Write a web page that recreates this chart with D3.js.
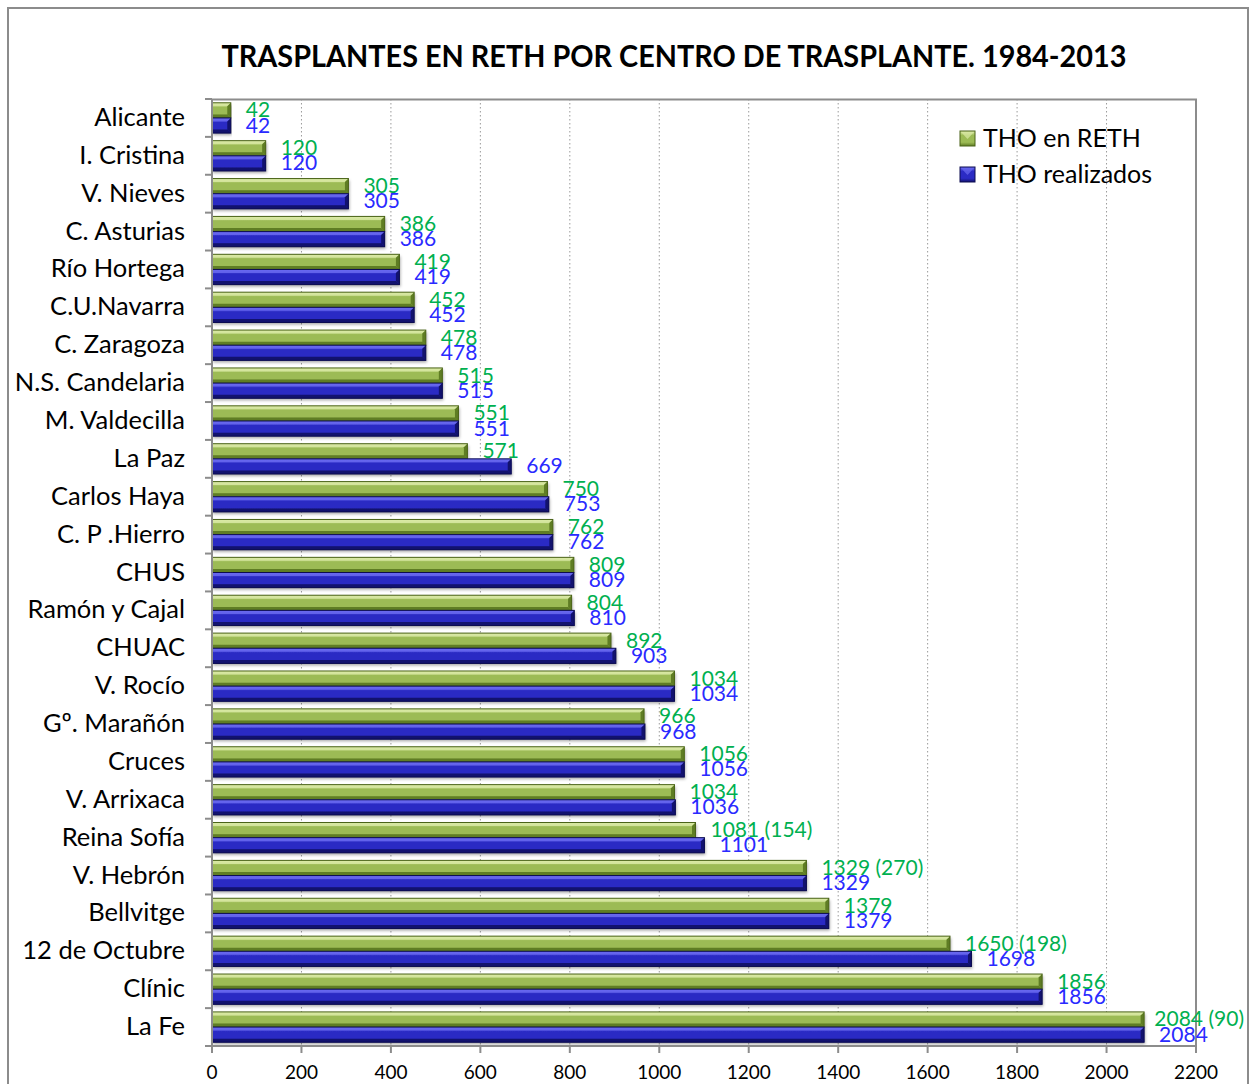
<!DOCTYPE html>
<html>
<head>
<meta charset="utf-8">
<script src="https://cdn.jsdelivr.net/npm/d3@7"></script>
<style>
  body { margin: 0; background: #fff; }
  text { font-family: Lato, "Open Sans", sans-serif; }
</style>
</head>
<body>
<svg id="svg1" width="1250" height="1084"></svg>
<script>
var svgId = "#svg1";

var centros = ["Alicante", "I. Cristina", "V. Nieves", "C. Asturias", "Río Hortega",
  "C.U.Navarra", "C. Zaragoza", "N.S. Candelaria", "M. Valdecilla", "La Paz",
  "Carlos Haya", "C. P .Hierro", "CHUS", "Ramón y Cajal", "CHUAC", "V. Rocío",
  "Gº. Marañón", "Cruces", "V. Arrixaca", "Reina Sofía", "V. Hebrón", "Bellvitge",
  "12 de Octubre", "Clínic", "La Fe"];
var thoReth = [42, 120, 305, 386, 419, 452, 478, 515, 551, 571, 750, 762, 809, 804,
  892, 1034, 966, 1056, 1034, 1081, 1329, 1379, 1650, 1856, 2084];
var thoRealizados = [42, 120, 305, 386, 419, 452, 478, 515, 551, 669, 753, 762, 809, 810,
  903, 1034, 968, 1056, 1036, 1101, 1329, 1379, 1698, 1856, 2084];
var rethExtra = ["", "", "", "", "", "", "", "", "", "", "", "", "", "", "", "", "", "",
  "", "(154)", "(270)", "", "(198)", "", "(90)"];
var xTicks = [0, 200, 400, 600, 800, 1000, 1200, 1400, 1600, 1800, 2000, 2200];
var series = ["THO en RETH", "THO realizados"];

var params = {
  "chartRight": 1244,
  "plot": { "x": 212, "y": 99, "width": 984, "height": 947 }
};

var translate = function(x, y) { return "translate(" + x + "," + y + ")"; };

var scale = {
  "x": d3.scaleLinear().domain([0, 2200]).range([0, params.plot.width]),
  "y": d3.scaleBand().domain(centros).range([0, params.plot.height]).paddingInner(0.2).paddingOuter(0.1),
  "s": d3.scaleBand().domain(series)
};
scale.s.range([0, scale.y.bandwidth()]);

var svg = d3.select(svgId);
var defs = svg.append("defs");

// gradients for the beveled bars
var looks = {
  "THO en RETH": { light: "#dbeaa6", mid: "#9cbb55", dark: "#5f7d24", edge: "#4a6318", text: "#00b050" },
  "THO realizados": { light: "#6a6af0", mid: "#2b2bc4", dark: "#12126e", edge: "#0c0c50", text: "#2a2aff" }
};
series.forEach(function(s, i) {
  var g = defs.append("linearGradient").attr("id", "grad" + i)
    .attr("x1", 0).attr("y1", 0).attr("x2", 0).attr("y2", 1);
  g.append("stop").attr("offset", "0%").attr("stop-color", looks[s].light);
  g.append("stop").attr("offset", "30%").attr("stop-color", looks[s].mid);
  g.append("stop").attr("offset", "75%").attr("stop-color", looks[s].mid);
  g.append("stop").attr("offset", "100%").attr("stop-color", looks[s].dark);
});
var sh = defs.append("filter").attr("id", "shadow").attr("x", "-5%").attr("y", "-30%").attr("width", "110%").attr("height", "180%");
sh.append("feDropShadow").attr("dx", 1).attr("dy", 2).attr("stdDeviation", 1.5)
  .attr("flood-color", "#000").attr("flood-opacity", 0.35);

// outer frame
svg.append("rect").attr("x", 8).attr("y", 8).attr("width", 1240).attr("height", 1090)
  .attr("fill", "#fff").attr("stroke", "#8c8c8c").attr("stroke-width", 2);

// title
svg.append("text").attr("x", 674).attr("y", 67).attr("text-anchor", "middle")
  .attr("font-size", 31).attr("font-weight", "bold").attr("fill", "#000")
  .attr("textLength", 905).attr("lengthAdjust", "spacingAndGlyphs")
  .text("TRASPLANTES EN RETH POR CENTRO DE TRASPLANTE. 1984-2013");

var plot = svg.append("g").attr("transform", translate(params.plot.x, params.plot.y));

// grid lines
plot.selectAll("line.grid").data(xTicks.slice(1, -1)).enter().append("line")
  .attr("class", "grid")
  .attr("x1", function(d) { return scale.x(d); }).attr("x2", function(d) { return scale.x(d); })
  .attr("y1", 0).attr("y2", params.plot.height)
  .attr("stroke", "#9a9a9a").attr("stroke-width", 1).attr("stroke-dasharray", "1.5,2.5");

// top and right border
plot.append("path")
  .attr("d", "M0,0.5H" + params.plot.width + "V" + params.plot.height)
  .attr("fill", "none").attr("stroke", "#8c8c8c").attr("stroke-width", 2);

// bars
var rows = plot.selectAll("g.row").data(centros).enter().append("g")
  .attr("class", "row")
  .attr("transform", function(d) { return translate(0, scale.y(d)); });

var bevel = 3.5;
var barData = function(d, i) {
  return [
    { s: series[0], v: thoReth[i], label: thoReth[i] + (rethExtra[i] ? " " + rethExtra[i] : "") },
    { s: series[1], v: thoRealizados[i], label: String(thoRealizados[i]) }
  ];
};

rows.each(function(d, i) {
  var row = d3.select(this);
  barData(d, i).forEach(function(b, k) {
    var y = scale.s(b.s), h = scale.s.bandwidth(), w = scale.x(b.v);
    var g = row.append("g");
    g.append("rect").attr("x", 0).attr("y", y).attr("width", w).attr("height", h)
      .attr("fill", "url(#grad" + k + ")").attr("filter", "url(#shadow)");
    // top facet
    g.append("polygon").attr("points", [[0, y], [w, y], [w - bevel, y + bevel], [0, y + bevel]].join(" "))
      .attr("fill", looks[b.s].light).attr("opacity", 0.8);
    // bottom facet
    g.append("polygon").attr("points", [[0, y + h - bevel], [w - bevel, y + h - bevel], [w, y + h], [0, y + h]].join(" "))
      .attr("fill", looks[b.s].dark);
    // end facet
    g.append("polygon").attr("points", [[w - bevel, y + bevel], [w, y], [w, y + h], [w - bevel, y + h - bevel]].join(" "))
      .attr("fill", looks[b.s].dark);
    g.append("rect").attr("x", 0).attr("y", y).attr("width", w).attr("height", h)
      .attr("fill", "none").attr("stroke", looks[b.s].edge).attr("stroke-width", 1);
    var t = row.append("text").attr("x", w + 15).attr("y", y + h / 2 + 7)
      .attr("font-size", 21).attr("fill", looks[b.s].text).text(b.label);
    // keep the label inside the chart area, as the spreadsheet does
    var maxX = params.chartRight - params.plot.x - t.node().getComputedTextLength();
    if (w + 15 > maxX) t.attr("x", maxX);
  });
});

// y axis
var gy = svg.append("g").attr("transform", translate(params.plot.x, params.plot.y));
gy.append("line").attr("x1", 0).attr("x2", 0).attr("y1", 0).attr("y2", params.plot.height)
  .attr("stroke", "#8c8c8c").attr("stroke-width", 2);
gy.selectAll("line.tick").data(d3.range(centros.length + 1)).enter().append("line")
  .attr("x1", -7).attr("x2", 0)
  .attr("y1", function(d) { return d * params.plot.height / centros.length; })
  .attr("y2", function(d) { return d * params.plot.height / centros.length; })
  .attr("stroke", "#8c8c8c").attr("stroke-width", 2);
gy.selectAll("text").data(centros).enter().append("text")
  .attr("x", -27).attr("y", function(d) { return scale.y(d) + scale.y.bandwidth() / 2 + 8; })
  .attr("text-anchor", "end").attr("font-size", 25.5).attr("fill", "#000")
  .text(function(d) { return d; });

// x axis
var gx = svg.append("g").attr("transform", translate(params.plot.x, params.plot.y + params.plot.height));
gx.append("line").attr("x1", 0).attr("x2", params.plot.width).attr("y1", 0).attr("y2", 0)
  .attr("stroke", "#8c8c8c").attr("stroke-width", 2);
gx.selectAll("line.tick").data(xTicks).enter().append("line")
  .attr("x1", function(d) { return scale.x(d); }).attr("x2", function(d) { return scale.x(d); })
  .attr("y1", 0).attr("y2", 7).attr("stroke", "#8c8c8c").attr("stroke-width", 2);
gx.selectAll("text").data(xTicks).enter().append("text")
  .attr("x", function(d) { return scale.x(d); }).attr("y", 33)
  .attr("text-anchor", "middle").attr("font-size", 19).attr("fill", "#000")
  .text(function(d) { return d; });

// legend
var legend = svg.append("g").attr("transform", translate(960, 131));
series.forEach(function(s, i) {
  var lg = legend.append("g").attr("transform", translate(0, i * 36));
  lg.append("rect").attr("x", 0).attr("y", 0).attr("width", 15).attr("height", 15)
    .attr("fill", "url(#grad" + i + ")").attr("stroke", looks[s].edge);
  lg.append("polygon").attr("points", "1,1 14,1 7.5,8").attr("fill", looks[s].light).attr("opacity", 0.7);
  lg.append("text").attr("x", 23).attr("y", 16).attr("font-size", 25).attr("fill", "#000").text(s);
});
</script>
</body>
</html>
